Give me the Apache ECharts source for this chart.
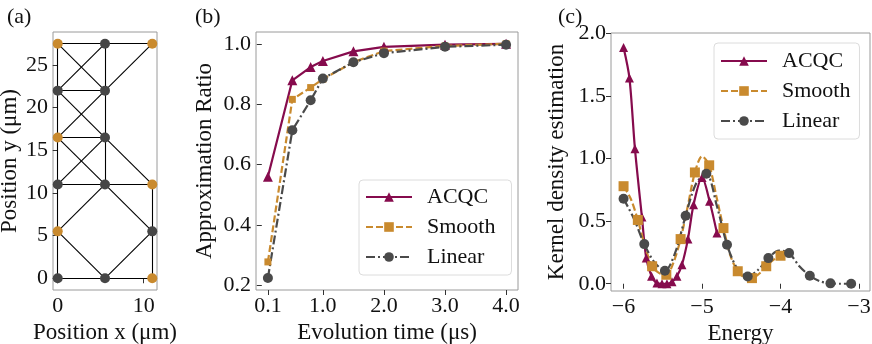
<!DOCTYPE html>
<html><head><meta charset="utf-8">
<script src="https://cdn.jsdelivr.net/npm/echarts@6/dist/echarts.min.js"></script>
<style>html,body{margin:0;padding:0;background:#fff}#c{width:872px;height:344px}</style>
</head><body><div id="c"></div>
<script>
// ---- Panel (a): atom layout ----
const nodeX = [0, 5.5, 11, 0, 5.5, 0, 5.5, 0, 5.5, 11, 0, 11, 0, 5.5, 11];
const nodeY = [27.5, 27.5, 27.5, 22, 22, 16.5, 16.5, 11, 11, 11, 5.5, 5.5, 0, 0, 0];
const nodeKind = ['o','g','o','g','g','o','g','g','g','o','o','g','g','g','o'];
const edges = [[0,1],[1,2],[0,3],[3,5],[5,7],[7,10],[10,12],[1,4],[4,6],[6,8],[0,4],[1,3],[2,4],[4,5],[3,4],[3,6],[6,9],[5,6],[5,8],[6,7],[7,8],[8,9],[9,11],[11,14],[8,10],[8,11],[10,13],[11,13],[12,13],[13,14]];
const aXTicks = [0, 10];
const aYTicks = [0, 5, 10, 15, 20, 25];

// ---- Panel (b): approximation ratio ----
const evoTime = [0.1, 0.5, 0.8, 1.0, 1.5, 2.0, 3.0, 4.0];
const acqcRatio = [0.560, 0.879, 0.923, 0.943, 0.975, 0.990, 0.997, 1.000];
const smoothRatio = [0.278, 0.816, 0.855, 0.883, 0.939, 0.976, 0.993, 1.000];
const linearRatio = [0.225, 0.714, 0.813, 0.885, 0.939, 0.969, 0.990, 0.997];
const bXTicks = [0.1, 1.0, 2.0, 3.0, 4.0];
const bYTicks = [0.2, 0.4, 0.6, 0.8, 1.0];

// ---- Panel (c): kernel density estimation ----
const acqcE = [-6.0, -5.925, -5.855, -5.766, -5.711, -5.643, -5.575, -5.51, -5.447, -5.383, -5.32, -5.256, -5.18, -5.108, -5.0, -4.904, -4.81];
const acqcK = [1.89, 1.645, 1.08, 0.533, 0.205, 0.06, 0.005, 0.0, 0.0, 0.015, 0.06, 0.152, 0.357, 0.632, 0.85, 0.66, 0.405];
const smoothMarkE = [-6.0, -5.818, -5.636, -5.455, -5.273, -5.091, -4.909, -4.727, -4.545, -4.364, -4.182, -4.0];
const smoothMarkK = [0.78, 0.51, 0.14, 0.072, 0.357, 0.89, 0.947, 0.445, 0.10, 0.045, 0.14, 0.224];
const smoothMidE = [-5.909, -5.727, -5.545, -5.364, -5.182, -5.0, -4.818, -4.636, -4.455, -4.273, -4.091];
const smoothMidK = [0.68, 0.30, 0.085, 0.17, 0.62, 1.02, 0.70, 0.22, 0.05, 0.08, 0.19];
const linearMarkE = [-6.0, -5.736, -5.473, -5.209, -4.945, -4.682, -4.418, -4.155, -3.891, -3.627, -3.364, -3.1];
const linearMarkK = [0.68, 0.317, 0.104, 0.544, 0.88, 0.312, 0.058, 0.205, 0.245, 0.064, 0.003, 0.0];
const linearMidE = [-5.868, -5.605, -5.341, -5.077, -4.81, -4.55, -4.287, -4.02, -3.76, -3.5, -3.23];
const linearMidK = [0.52, 0.17, 0.25, 0.80, 0.62, 0.12, 0.11, 0.265, 0.14, 0.02, 0.0];
const cXTicks = [-6, -5, -4, -3];
const cYTicks = [0.0, 0.5, 1.0, 1.5, 2.0];

const FONT = 'Liberation Serif';
const C_ACQC = '#860b4d', C_SMOOTH = '#c98a2e', C_LINEAR = '#4a4a4a', C_ORANGE = '#c98a2e', C_GRAY = '#464646';

function merged(mE, mK, iE, iK) {
  const pts = [];
  mE.forEach((e, i) => pts.push({ value: [e, mK[i]] }));
  iE.forEach((e, i) => pts.push({ value: [e, iK[i]], symbol: 'none' }));
  pts.sort((p, q) => p.value[0] - q.value[0]);
  return pts;
}

function axis(idx, min, max, ticks, fmt, name, gap) {
  return {
    type: 'value', gridIndex: idx, min: min, max: max,
    splitLine: { show: false },
    axisLine: { show: false },
    axisTick: { show: true, length: 5, customValues: ticks, lineStyle: { color: '#333', width: 1 } },
    axisLabel: { customValues: ticks, formatter: fmt, color: '#111', fontFamily: FONT, fontSize: 22, margin: 5 },
    name: name, nameLocation: 'middle', nameGap: gap,
    nameTextStyle: { color: '#111', fontFamily: FONT, fontSize: 23 }
  };
}

const gridStyle = { show: true, borderColor: '#9a9a9a', borderWidth: 1, backgroundColor: 'transparent', containLabel: false, outerBoundsMode: 'none' };
const titleStyle = { fontFamily: FONT, fontSize: 22, fontWeight: 'normal', color: '#111' };

const chart = echarts.init(document.getElementById('c'), null, { renderer: 'canvas' });
chart.setOption({
  animation: false,
  backgroundColor: '#fff',
  title: [
    { text: '(a)', left: 2, top: 1, textStyle: titleStyle },
    { text: '(b)', left: 190, top: 1, textStyle: titleStyle },
    { text: '(c)', left: 553, top: 1, textStyle: titleStyle }
  ],
  grid: [
    Object.assign({ left: 53, top: 32, width: 104, height: 258 }, gridStyle),
    Object.assign({ left: 256, top: 32, width: 262, height: 258 }, gridStyle),
    Object.assign({ left: 611, top: 33, width: 259, height: 258 }, gridStyle)
  ],
  xAxis: [
    axis(0, -0.55, 11.55, aXTicks, v => String(v), 'Position x (μm)', 26),
    axis(1, -0.095, 4.195, bXTicks, v => v.toFixed(1), 'Evolution time (μs)', 26),
    axis(2, -6.16, -2.86, cXTicks, v => String(v).replace('-', '−'), 'Energy', 26)
  ],
  yAxis: [
    axis(0, -1.375, 28.875, aYTicks, v => String(v), 'Position y (μm)', 32),
    axis(1, 0.185, 1.039, bYTicks, v => v.toFixed(1), 'Approximation Ratio', 40),
    axis(2, -0.058, 2.005, cYTicks, v => v.toFixed(1), 'Kernel density estimation', 43)
  ],
  legend: [
    {
      data: ['ACQC', 'Smooth', 'Linear'], orient: 'vertical', left: 359, top: 180,
      itemWidth: 46, itemHeight: 12, itemGap: 8,
      padding: [6, 16, 7, 6],
      backgroundColor: '#fff', borderColor: '#dcdcdc', borderWidth: 1, borderRadius: 4,
      textStyle: { fontFamily: FONT, fontSize: 22, color: '#111', padding: [0, 0, 0, 10] }
    },
    {
      data: ['ACQC', 'Smooth', 'Linear'], orient: 'vertical', left: 714, top: 43,
      itemWidth: 46, itemHeight: 12, itemGap: 8,
      padding: [7, 9, 7, 6],
      backgroundColor: '#fff', borderColor: '#dcdcdc', borderWidth: 1, borderRadius: 4,
      textStyle: { fontFamily: FONT, fontSize: 22, color: '#111', padding: [0, 0, 0, 10] }
    }
  ],
  series: [
    {
      type: 'graph', coordinateSystem: 'cartesian2d', xAxisIndex: 0, yAxisIndex: 0,
      symbolSize: 10, z: 3,
      data: nodeX.map((x, i) => ({ value: [x, nodeY[i]], itemStyle: { color: nodeKind[i] === 'o' ? C_ORANGE : C_GRAY } })),
      links: edges.map(e => ({ source: e[0], target: e[1] })),
      lineStyle: { color: '#000', width: 1.1, opacity: 1, curveness: 0 },
      label: { show: false }, silent: true
    },
    {
      name: 'ACQC', type: 'line', xAxisIndex: 1, yAxisIndex: 1,
      data: evoTime.map((t, i) => [t, acqcRatio[i]]),
      symbol: 'triangle', symbolSize: 10,
      lineStyle: { color: C_ACQC, width: 2.2 }, itemStyle: { color: C_ACQC }
    },
    {
      name: 'Smooth', type: 'line', xAxisIndex: 1, yAxisIndex: 1,
      data: evoTime.map((t, i) => [t, smoothRatio[i]]),
      symbol: 'rect', symbolSize: 7,
      lineStyle: { color: C_SMOOTH, width: 2.2, type: [7, 3] }, itemStyle: { color: C_SMOOTH }
    },
    {
      name: 'Linear', type: 'line', xAxisIndex: 1, yAxisIndex: 1,
      data: evoTime.map((t, i) => [t, linearRatio[i]]),
      symbol: 'circle', symbolSize: 10,
      lineStyle: { color: C_LINEAR, width: 2.2, type: [9, 3, 2, 3] }, itemStyle: { color: C_LINEAR }
    },
    {
      name: 'ACQC', type: 'line', xAxisIndex: 2, yAxisIndex: 2, smooth: 0.3,
      data: acqcE.map((e, i) => [e, acqcK[i]]),
      symbol: 'triangle', symbolSize: 9,
      lineStyle: { color: C_ACQC, width: 2.2 }, itemStyle: { color: C_ACQC }
    },
    {
      name: 'Smooth', type: 'line', xAxisIndex: 2, yAxisIndex: 2, smooth: 0.3,
      data: merged(smoothMarkE, smoothMarkK, smoothMidE, smoothMidK),
      symbol: 'rect', symbolSize: 10,
      lineStyle: { color: C_SMOOTH, width: 2.2, type: [7, 3] }, itemStyle: { color: C_SMOOTH }
    },
    {
      name: 'Linear', type: 'line', xAxisIndex: 2, yAxisIndex: 2, smooth: 0.3,
      data: merged(linearMarkE, linearMarkK, linearMidE, linearMidK),
      symbol: 'circle', symbolSize: 10,
      lineStyle: { color: C_LINEAR, width: 2.2, type: [9, 3, 2, 3] }, itemStyle: { color: C_LINEAR }
    }
  ]
});
</script></body></html>
